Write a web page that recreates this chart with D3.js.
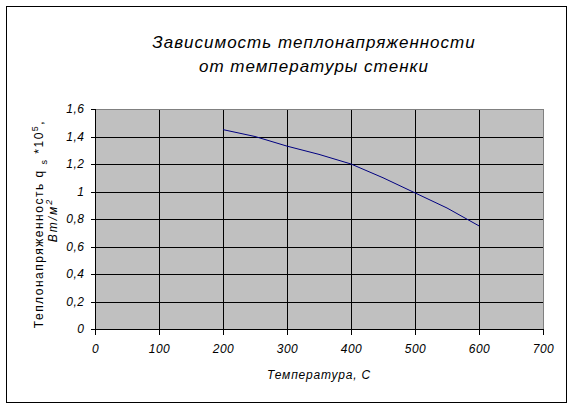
<!DOCTYPE html>
<html lang="ru">
<head>
<meta charset="utf-8">
<style>
  body { margin: 0; background: #fff; }
  text { font-family: "Liberation Sans", Arial, sans-serif; fill: #000; }
  .tick-label { font-size: 12px; font-style: italic; }
</style>
<script src="https://d3js.org/d3.v7.min.js"></script>
<title>Зависимость теплонапряженности</title>
</head>
<body>
<div id="chart"></div>
<script>
// temperature of the wall, C
var temps = [200, 250, 300, 350, 400, 450, 500, 550, 600];
// heat flux q_s * 10^5, W/m2
var flux = [1.45, 1.40, 1.33, 1.27, 1.20, 1.10, 0.99, 0.88, 0.75];

var xTicks = [0, 100, 200, 300, 400, 500, 600, 700];
var yTicks = [0, 0.2, 0.4, 0.6, 0.8, 1.0, 1.2, 1.4, 1.6];

var titleLines = ["Зависимость теплонапряженности", "от температуры стенки"];
var xTitle = "Температура, С";

var width = 574, height = 410;
var plot = { left: 95, right: 543, top: 109, bottom: 329 };

var svg = d3.select("#chart").append("svg")
    .attr("width", width)
    .attr("height", height);

// outer frame
svg.append("rect")
    .attr("x", 6.5).attr("y", 6.5)
    .attr("width", 560).attr("height", 396)
    .attr("fill", "#fff").attr("stroke", "#000");

var x = d3.scaleLinear().domain([0, 700]).range([plot.left, plot.right]);
var y = d3.scaleLinear().domain([0, 1.6]).range([plot.bottom, plot.top]);

// plot background
svg.append("rect")
    .attr("x", plot.left).attr("y", plot.top)
    .attr("width", plot.right - plot.left)
    .attr("height", plot.bottom - plot.top)
    .attr("fill", "#c0c0c0");

// grid
var g = svg.append("g").attr("shape-rendering", "crispEdges");
g.selectAll(".hgrid").data(yTicks.slice(1, -1)).enter().append("line")
    .attr("x1", plot.left).attr("x2", plot.right)
    .attr("y1", function(d) { return Math.round(y(d)) + 0.5; })
    .attr("y2", function(d) { return Math.round(y(d)) + 0.5; })
    .attr("stroke", "#000");
g.selectAll(".vgrid").data(xTicks.slice(1, -1)).enter().append("line")
    .attr("y1", plot.top).attr("y2", plot.bottom)
    .attr("x1", function(d) { return Math.round(x(d)) + 0.5; })
    .attr("x2", function(d) { return Math.round(x(d)) + 0.5; })
    .attr("stroke", "#000");

// top and right border in grey
g.append("path")
    .attr("d", "M" + plot.left + "," + (plot.top + 0.5) + "H" + (plot.right + 0.5) + "V" + plot.bottom)
    .attr("fill", "none").attr("stroke", "#808080");

// axes
var fmt = function(d) { return String(+d.toFixed(1)).replace(".", ","); };

var xAxis = svg.append("g")
    .attr("transform", "translate(0," + (plot.bottom + 0.5) + ")")
    .call(d3.axisBottom(x).tickValues(xTicks).tickSize(5).tickPadding(10).tickFormat(d3.format("d")));
var yAxis = svg.append("g")
    .attr("transform", "translate(" + (plot.left + 0.5) + ",0)")
    .call(d3.axisLeft(y).tickValues(yTicks).tickSize(5).tickPadding(6).tickFormat(fmt));

[xAxis, yAxis].forEach(function(a) {
    a.attr("font-family", null).attr("font-size", null).attr("shape-rendering", "crispEdges");
    a.selectAll("text").attr("class", "tick-label").attr("letter-spacing", "0.5px");
    a.selectAll("line, path").attr("stroke", "#000");
    a.select(".domain").attr("d", a === xAxis
        ? "M" + plot.left + ",0H" + (plot.right + 0.5)
        : "M0," + plot.top + "V" + (plot.bottom + 0.5));
});

// data line
var line = d3.line()
    .x(function(d, i) { return x(temps[i]); })
    .y(function(d) { return y(d); });
svg.append("path")
    .datum(flux)
    .attr("d", line)
    .attr("fill", "none")
    .attr("stroke", "#000080")
    .attr("stroke-width", 1);

// chart title
svg.selectAll(".title").data(titleLines).enter().append("text")
    .attr("x", 314)
    .attr("y", function(d, i) { return 48 + i * 24; })
    .attr("text-anchor", "middle")
    .attr("font-size", "17px")
    .attr("font-style", "italic")
    .attr("letter-spacing", "1px")
    .text(function(d) { return d; });

// x axis title
svg.append("text")
    .attr("x", (plot.left + plot.right) / 2)
    .attr("y", 379)
    .attr("text-anchor", "middle")
    .attr("font-size", "12px")
    .attr("font-style", "italic")
    .attr("letter-spacing", "0.8px")
    .text(xTitle);

// y axis title, two rotated lines
var yt = svg.append("text")
    .attr("transform", "translate(43,224) rotate(-90)")
    .attr("text-anchor", "middle")
    .attr("font-size", "12px")
    .attr("letter-spacing", "1.5px");
yt.append("tspan").text("Теплонапряженность q ");
yt.append("tspan").attr("font-size", "9px").attr("dy", 4).text("s");
yt.append("tspan").attr("dy", -4).text(" *10");
yt.append("tspan").attr("font-size", "9px").attr("dy", -5).text("5");
yt.append("tspan").attr("dy", 5).text(",");

var yt2 = svg.append("text")
    .attr("transform", "translate(57,220) rotate(-90)")
    .attr("text-anchor", "middle")
    .attr("font-size", "12px")
    .attr("font-style", "italic")
    .attr("letter-spacing", "2px");
yt2.append("tspan").text("Вт/м");
yt2.append("tspan").attr("font-size", "9px").attr("dy", -5).text("2");
</script>
</body>
</html>
